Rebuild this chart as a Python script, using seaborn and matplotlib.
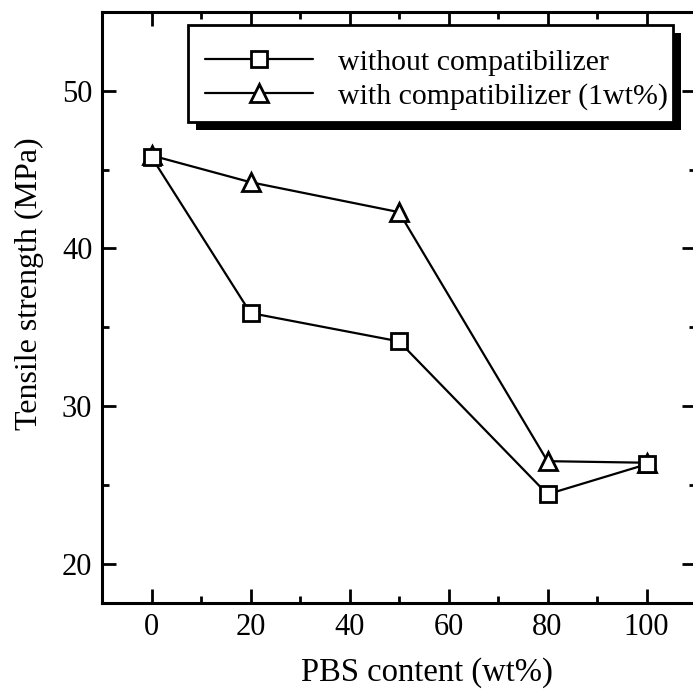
import numpy as np
import pandas as pd
import matplotlib
matplotlib.use("Agg")
import matplotlib.pyplot as plt
import matplotlib.patheffects as pe
from matplotlib.patches import Rectangle
from matplotlib.ticker import MultipleLocator
from matplotlib.lines import Line2D
import seaborn as sns

# data
PBS = [0, 20, 50, 80, 100]
WITHOUT = [45.8, 35.9, 34.1, 24.4, 26.3]
WITH = [45.9, 44.2, 42.3, 26.5, 26.4]
LABELS = ["without compatibilizer", "with compatibilizer (1wt%)"]
MARKERS = ["s", "^"]

sns.set_theme(style="ticks")
plt.rcParams["font.family"] = ["Liberation Serif", "DejaVu Serif"]
plt.rcParams["text.color"] = "black"
plt.rcParams["axes.labelcolor"] = "black"
plt.rcParams["xtick.color"] = "black"
plt.rcParams["ytick.color"] = "black"

df = pd.DataFrame({
    "pbs": PBS * 2,
    "ts": WITHOUT + WITH,
    "series": [LABELS[0]] * len(PBS) + [LABELS[1]] * len(PBS),
})

W, H = 693, 689
fig = plt.figure(figsize=(W / 100, H / 100), dpi=100)
ax = fig.add_axes([102 / W, 86 / H, 594 / W, 591 / H])

for lab, mk in zip(LABELS, MARKERS):
    sub = df[df["series"] == lab]
    sns.lineplot(data=sub, x="pbs", y="ts", ax=ax, color="black", lw=1.6,
                 marker=mk, ms=12 if mk == "s" else 13, mfc="white", mec="black",
                 mew=2.0, legend=False, zorder=3 if mk == "s" else 2)

ax.set_xlim(-10, 110)
ax.set_ylim(17.5, 55)
ax.xaxis.set_major_locator(MultipleLocator(20))
ax.xaxis.set_minor_locator(MultipleLocator(10))
ax.yaxis.set_major_locator(MultipleLocator(10))
ax.yaxis.set_minor_locator(MultipleLocator(5))
ax.set_yticks([20, 30, 40, 50])
ax.tick_params(which="both", direction="in", top=True, right=True,
               width=2.0, pad=7, labelsize=22)
ax.tick_params(which="major", length=10)
ax.tick_params(which="minor", length=5)
for s in ax.spines.values():
    s.set_linewidth(2.2)
    s.set_color("black")

ax.set_xlabel("PBS content (wt%)", fontsize=23.5, va="baseline")
ax.set_ylabel("Tensile strength (MPa)", fontsize=23)
ax.xaxis.set_label_coords((427 - 102) / 594, (603 - 681) / 591)
ax.yaxis.set_label_coords((44 - 102) / 594, (603 - 284) / 591)

# legend box with solid drop shadow
box = Rectangle((188 / W, 1 - 122 / H), (673 - 188) / W, (122 - 25) / H,
                transform=fig.transFigure, facecolor="white", edgecolor="black",
                lw=2.0, zorder=5, clip_on=False)
box.set_path_effects([pe.SimplePatchShadow(offset=(6, -6), shadow_rgbFace="black", alpha=1.0),
                      pe.Normal()])
ax.add_patch(box)

handles = [Line2D([0], [0], color="black", lw=1.6, marker=mk, ms=12 if mk == "s" else 13,
                  mfc="white", mec="black", mew=2.0) for mk in MARKERS]
leg = ax.legend(handles, LABELS, loc="upper left",
                bbox_to_anchor=(205 / W, 1 - 49 / H),
                bbox_transform=fig.transFigure, borderaxespad=0, borderpad=0,
                fontsize=21.5, handlelength=3.6, handletextpad=0.85,
                frameon=False, labelspacing=0.22)
leg.set_zorder(6)

fig.savefig("out.png", dpi=100)
